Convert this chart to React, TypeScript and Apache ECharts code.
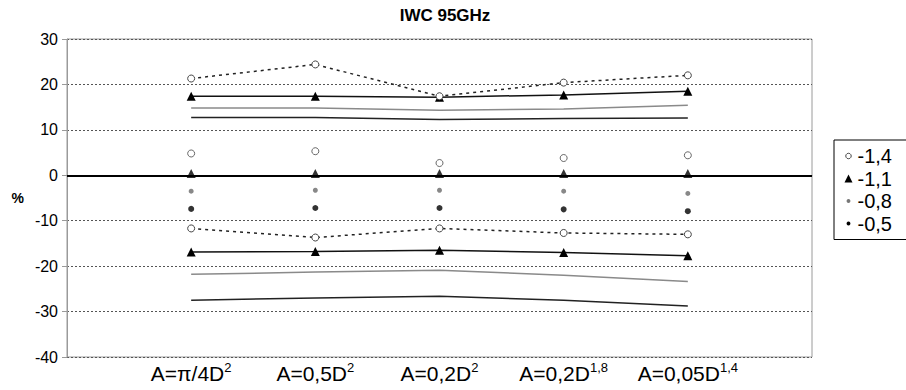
import React, { useEffect, useRef } from "react";
import * as echarts from "echarts";

const categories = ["A=π/4D|2", "A=0,5D|2", "A=0,2D|2", "A=0,2D|1,8", "A=0,05D|1,4"];
const seriesNames = ["-1,4", "-1,1", "-0,8", "-0,5"];

// -1,4 (open circles, dotted bounds)
const s14Upper = [21.3, 24.4, 17.4, 20.4, 22.0];
const s14Mid = [4.8, 5.3, 2.7, 3.8, 4.4];
const s14Lower = [-11.7, -13.7, -11.7, -12.7, -13.0];
// -1,1 (triangles)
const s11Upper = [17.4, 17.4, 17.2, 17.7, 18.5];
const s11Mid = [0.4, 0.4, 0.4, 0.4, 0.4];
const s11Lower = [-16.9, -16.8, -16.5, -17.0, -17.7];
// -0,8 (gray)
const s08Upper = [14.8, 14.8, 14.3, 14.6, 15.4];
const s08Mid = [-3.5, -3.3, -3.3, -3.5, -4.0];
const s08Lower = [-21.8, -21.3, -20.9, -22.0, -23.4];
// -0,5 (black)
const s05Upper = [12.7, 12.7, 12.3, 12.5, 12.6];
const s05Mid = [-7.4, -7.2, -7.2, -7.5, -7.9];
const s05Lower = [-27.5, -27.0, -26.6, -27.5, -28.8];

const yTicks = [30, 20, 10, 0, -10, -20, -30, -40];

const FONT = "Arial, 'Liberation Sans', sans-serif";

const toXY = (arr: number[]) => arr.map((v, i) => [i + 1, v]);

// small dot icons (bounding box padded with move-to points so the dot stays small)
const smallDot = "path://M0,0 M10,10 M5,2.6 A2.4,2.4 0 1 1 4.99,2.6 Z";
const smallCircle = "path://M0,0 M10,10 M5,1.6 A3.4,3.4 0 1 1 4.99,1.6 Z";

export default function App() {
  const ref = useRef<HTMLDivElement>(null);
  useEffect(() => {
    if (!ref.current) return;
    const chart = echarts.init(ref.current, undefined, { renderer: "svg" });

    const openCircle = {
      symbol: "circle",
      symbolSize: 7,
      itemStyle: { color: "#fff", borderColor: "#444", borderWidth: 1 },
    };
    const triangle = {
      symbol: "triangle",
      symbolSize: 9,
      itemStyle: { color: "#000" },
    };

    const series: any[] = [
      {
        name: seriesNames[0],
        type: "line",
        data: toXY(s14Upper),
        ...openCircle,
        lineStyle: { color: "#222", width: 1.5, type: [3, 4] },
        z: 5,
      },
      {
        name: seriesNames[0],
        type: "line",
        data: toXY(s14Lower),
        ...openCircle,
        lineStyle: { color: "#222", width: 1.5, type: [3, 4] },
        z: 5,
      },
      {
        name: seriesNames[0],
        type: "scatter",
        data: toXY(s14Mid),
        ...openCircle,
        z: 5,
      },
      {
        name: seriesNames[1],
        type: "line",
        data: toXY(s11Upper),
        ...triangle,
        lineStyle: { color: "#111", width: 1.5 },
        z: 4,
      },
      {
        name: seriesNames[1],
        type: "line",
        data: toXY(s11Lower),
        ...triangle,
        lineStyle: { color: "#111", width: 1.5 },
        z: 4,
      },
      {
        name: seriesNames[1],
        type: "scatter",
        data: toXY(s11Mid),
        ...triangle,
        z: 6,
        markLine: {
          silent: true,
          symbol: ["none", "none"],
          label: { show: false },
          lineStyle: { color: "#000", width: 2, type: "solid" },
          data: [{ yAxis: 0 }],
          z: 3,
        },
      },
      {
        name: seriesNames[2],
        type: "line",
        data: toXY(s08Upper),
        showSymbol: false,
        symbol: "none",
        lineStyle: { color: "#8a8a8a", width: 1.5 },
        itemStyle: { color: "#777" },
      },
      {
        name: seriesNames[2],
        type: "line",
        data: toXY(s08Lower),
        showSymbol: false,
        symbol: "none",
        lineStyle: { color: "#8a8a8a", width: 1.5 },
        itemStyle: { color: "#777" },
      },
      {
        name: seriesNames[2],
        type: "scatter",
        data: toXY(s08Mid),
        symbol: "circle",
        symbolSize: 5,
        itemStyle: { color: "#6a6a6a" },
      },
      {
        name: seriesNames[3],
        type: "line",
        data: toXY(s05Upper),
        showSymbol: false,
        symbol: "none",
        lineStyle: { color: "#222", width: 1.5 },
        itemStyle: { color: "#000" },
      },
      {
        name: seriesNames[3],
        type: "line",
        data: toXY(s05Lower),
        showSymbol: false,
        symbol: "none",
        lineStyle: { color: "#222", width: 1.5 },
        itemStyle: { color: "#000" },
      },
      {
        name: seriesNames[3],
        type: "scatter",
        data: toXY(s05Mid),
        symbol: "circle",
        symbolSize: 6,
        itemStyle: { color: "#000" },
      },
    ];

    chart.setOption({
      animation: false,
      backgroundColor: "#fff",
      textStyle: { fontFamily: FONT },
      title: {
        text: "IWC 95GHz",
        left: 440,
        textAlign: "center",
        top: 2,
        textStyle: { fontFamily: FONT, fontSize: 17, fontWeight: "bold", color: "#000" },
      },
      grid: {
        left: 67,
        right: 94,
        top: 39,
        bottom: 33,
        show: true,
        borderColor: "#9a9a9a",
        borderWidth: 1,
        backgroundColor: "transparent",
      },
      legend: {
        orient: "vertical",
        left: 834,
        top: 140,
        padding: [6, 40, 6, 10],
        borderColor: "#000",
        borderWidth: 1,
        itemWidth: 8,
        itemHeight: 8,
        itemGap: 2.5,
        itemTextGap: 9,
        selectedMode: false,
        textStyle: { fontFamily: FONT, fontSize: 20, lineHeight: 20, color: "#000" },
        data: [
          { name: seriesNames[0], icon: smallCircle, itemStyle: { color: "#fff", borderColor: "#444", borderWidth: 1 } },
          { name: seriesNames[1], icon: "triangle", itemStyle: { color: "#000" } },
          { name: seriesNames[2], icon: smallDot, itemStyle: { color: "#777" } },
          { name: seriesNames[3], icon: smallDot, itemStyle: { color: "#000" } },
        ],
      },
      xAxis: {
        type: "value",
        min: 0,
        max: 6,
        interval: 1,
        splitLine: { show: false },
        axisLine: { show: true, lineStyle: { color: "#9a9a9a", width: 1 } },
        axisTick: { show: false },
        axisLabel: {
          margin: 4,
          color: "#000",
          showMinLabel: false,
          showMaxLabel: false,
          formatter: (v: number) => {
            const c = categories[v - 1];
            if (!c) return "";
            const [base, sup] = c.split("|");
            return `{a|${base}}{s|${sup}}`;
          },
          rich: {
            a: { fontFamily: FONT, fontSize: 21, lineHeight: 24, color: "#000" },
            s: { fontFamily: FONT, fontSize: 13, lineHeight: 14, color: "#000", verticalAlign: "top" },
          },
        },
      },
      yAxis: {
        type: "value",
        min: -40,
        max: 30,
        interval: 10,
        name: "%",
        nameLocation: "middle",
        nameGap: 43,
        nameRotate: 0,
        nameTextStyle: { fontFamily: FONT, fontSize: 14, fontWeight: "bold", color: "#000" },
        axisLine: { show: true, lineStyle: { color: "#9a9a9a", width: 1 } },
        axisTick: { show: true, inside: false, length: 5, lineStyle: { color: "#9a9a9a" } },
        axisLabel: {
          color: "#000",
          fontSize: 16,
          fontFamily: FONT,
          margin: 9,
          formatter: (v: number) => (yTicks.includes(v) ? String(v) : ""),
        },
        splitLine: {
          show: true,
          lineStyle: { color: "#555", width: 1, type: [2, 2] },
        },
      },
      series,
    });
    return () => chart.dispose();
  }, []);
  return (
    <div
      ref={ref}
      style={{ position: "fixed", left: 0, top: 0, width: 906, height: 390 }}
    />
  );
}
